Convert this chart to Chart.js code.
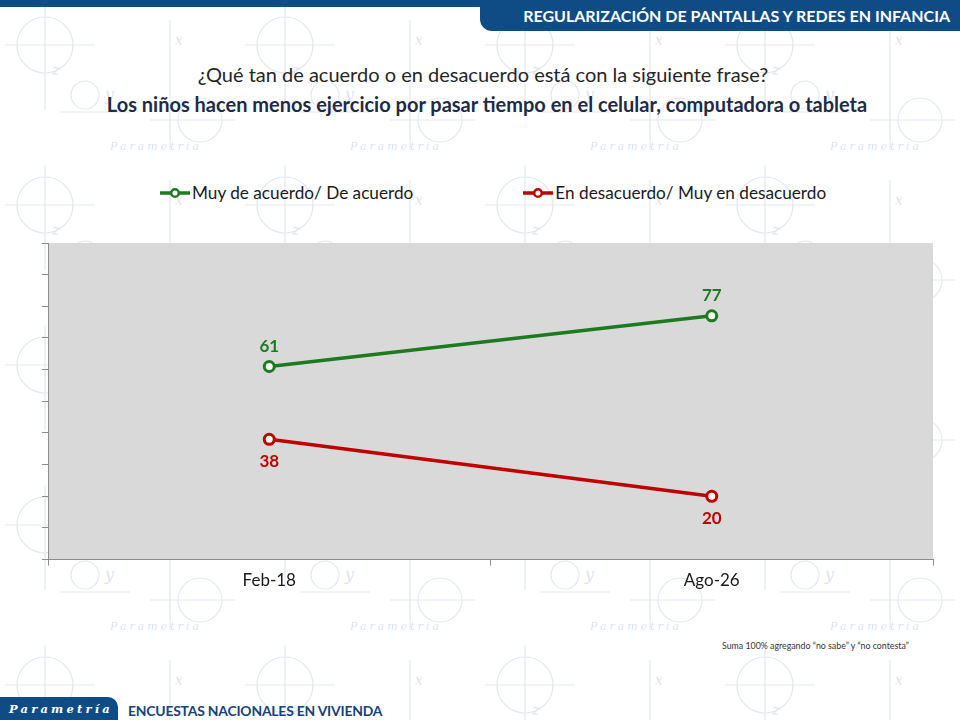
<!DOCTYPE html>
<html lang="es">
<head>
<meta charset="utf-8">
<title>Regularización de pantallas y redes en infancia</title>
<script src="https://cdn.jsdelivr.net/npm/chart.js@4.4.1/dist/chart.umd.min.js"></script>
<style>
  html, body { margin: 0; padding: 0; }
  body {
    width: 960px; height: 720px; position: relative; overflow: hidden;
    background: #ffffff; font-family: Lato, 'Noto Sans', sans-serif;
  }
  #wm { position: absolute; left: 0; top: 0; width: 960px; height: 720px; opacity: 0.85; }
  .topline { position: absolute; left: 0; top: 0; width: 960px; height: 7px; background: #0f4c86; }
  .toptab {
    position: absolute; left: 480px; top: 0; width: 480px; height: 31px;
    background: #0f4c86; border-bottom-left-radius: 12px;
    color: #fff; font-weight: bold; font-size: 16px; line-height: 31px;
    text-align: right; padding-right: 10px; box-sizing: border-box;
  }
  .q1 { position: absolute; left: 0; width: 966px; top: 62px; text-align: center; font-size: 20px; color: #262626; }
  .q2 { position: absolute; left: 0; width: 974px; top: 92px; text-align: center; font-size: 20px; font-weight: bold; color: #1f2b45; }
  #legend { position: absolute; top: 182px; left: 160px; display: flex; align-items: center; }
  #legend .item { display: flex; align-items: center; font-size: 17.2px; color: #1a1a1a; }
  #legend .item img { margin-right: 2px; }
  #chartBox { position: absolute; left: 0; top: 230px; width: 960px; height: 390px; }
  .note { position: absolute; left: 722px; top: 640px; font-size: 8.8px; color: #333; }
  .foottab {
    position: absolute; left: 0; top: 697px; width: 118px; height: 23px;
    background: #0f4c86; border-top-right-radius: 10px;
    color: #fff; font-family: 'DejaVu Serif', serif; font-style: italic; font-weight: bold;
    font-size: 11.5px; letter-spacing: 3.2px; line-height: 24px; padding-left: 9px; box-sizing: border-box;
  }
  .foottext { position: absolute; left: 128px; top: 702px; font-size: 13.9px; font-weight: bold; color: #17427a; letter-spacing: -0.2px; }
</style>
</head>
<body>
<svg id="wm" xmlns="http://www.w3.org/2000/svg">
  <defs>
    <pattern id="sk" width="240" height="160" patternUnits="userSpaceOnUse">
      <g fill="none" stroke="#dde5ee" stroke-width="1.2">
        <circle cx="45" cy="45" r="28"/>
        <line x1="45" y1="5" x2="45" y2="110"/>
        <line x1="5" y1="45" x2="95" y2="45"/>
        <circle cx="85" cy="95" r="14"/>
        <line x1="60" y1="112" x2="130" y2="112"/>
        <line x1="170" y1="20" x2="170" y2="150"/>
        <circle cx="200" cy="120" r="22"/>
        <line x1="150" y1="120" x2="235" y2="120"/>
      </g>
      <g fill="#d5dfea" font-family="'DejaVu Serif', serif" font-style="italic">
        <text x="52" y="75" font-size="15">z</text>
        <text x="105" y="100" font-size="16">y</text>
        <text x="175" y="45" font-size="14">x</text>
        <text x="110" y="150" font-size="11" letter-spacing="3">Parametria</text>
      </g>
    </pattern>
  </defs>
  <rect width="960" height="720" fill="url(#sk)"/>
</svg>

<div class="topline"></div>
<div class="toptab">REGULARIZACIÓN DE PANTALLAS Y REDES EN INFANCIA</div>
<div class="q1">¿Qué tan de acuerdo o en desacuerdo está con la siguiente frase?</div>
<div class="q2">Los niños hacen menos ejercicio por pasar tiempo en el celular, computadora o tableta</div>
<div id="legend"></div>
<div id="chartBox"><canvas id="myChart" width="960" height="390"></canvas></div>
<div class="note">Suma 100% agregando “no sabe” y “no contesta”</div>
<div class="foottab">Parametría</div>
<div class="foottext">ENCUESTAS NACIONALES EN VIVIENDA</div>

<script>
'use strict';

// data
var categories = ['Feb-18', 'Ago-26'];
var seriesNames = ['Muy de acuerdo/ De acuerdo', 'En desacuerdo/ Muy en desacuerdo'];
var acuerdo = [61, 77];
var desacuerdo = [38, 20];
var yMin = 0;
var yMax = 100;
var yStep = 10;

var GREEN = '#1d7a1f';
var RED = '#c00000';

// small line + open circle used as the legend marker
function legendMarker(color) {
  var c = document.createElement('canvas');
  c.width = 30;
  c.height = 12;
  var g = c.getContext('2d');
  g.strokeStyle = color;
  g.lineWidth = 3.5;
  g.beginPath();
  g.moveTo(0, 6);
  g.lineTo(30, 6);
  g.stroke();
  g.fillStyle = '#fff';
  g.lineWidth = 2.5;
  g.beginPath();
  g.arc(15, 6, 3.8, 0, Math.PI * 2);
  g.fill();
  g.stroke();
  return c;
}

var plotBg = {
  id: 'plotBg',
  beforeDraw: function(chart) {
    var a = chart.chartArea;
    var ctx = chart.ctx;
    ctx.save();
    ctx.fillStyle = '#d9d9d9';
    ctx.fillRect(a.left, a.top, a.right - a.left, a.bottom - a.top);
    ctx.restore();
  }
};

// value labels: above for the green line, below for the red one
var valueLabels = {
  id: 'valueLabels',
  afterDatasetsDraw: function(chart) {
    var ctx = chart.ctx;
    ctx.save();
    ctx.font = 'bold 17px Lato, sans-serif';
    ctx.textAlign = 'center';
    ctx.textBaseline = 'middle';
    chart.data.datasets.forEach(function(ds, di) {
      var meta = chart.getDatasetMeta(di);
      meta.data.forEach(function(pt, i) {
        ctx.fillStyle = ds.borderColor;
        var dy = di === 0 ? -20 : 22;
        ctx.fillText(ds.data[i], pt.x, pt.y + dy);
      });
    });
    ctx.restore();
  }
};

var ctx = document.getElementById('myChart').getContext('2d');
var chart = new Chart(ctx, {
  type: 'line',
  data: {
    labels: categories,
    datasets: [{
      label: seriesNames[0],
      data: acuerdo,
      borderColor: GREEN,
      backgroundColor: '#ffffff'
    }, {
      label: seriesNames[1],
      data: desacuerdo,
      borderColor: RED,
      backgroundColor: '#ffffff'
    }]
  },
  options: {
    responsive: false,
    animation: false,
    events: [],
    layout: { padding: { left: 42, right: 27, top: 13, bottom: 24 } },
    elements: {
      line: { borderWidth: 3.5, tension: 0 },
      point: { radius: 5, borderWidth: 3, pointStyle: 'circle', hoverRadius: 5 }
    },
    scales: {
      x: {
        offset: true,
        grid: { offset: true, drawOnChartArea: false, drawTicks: true, tickLength: 6, color: '#8c8c8c' },
        border: { display: true, color: '#8c8c8c', width: 1 },
        ticks: { color: '#1a1a1a', padding: 5, font: { family: 'Lato, sans-serif', size: 17 } }
      },
      y: {
        min: yMin,
        max: yMax,
        grid: { drawOnChartArea: false, drawTicks: true, tickLength: 6, color: '#8c8c8c' },
        border: { display: true, color: '#8c8c8c', width: 1 },
        ticks: { display: false, stepSize: yStep }
      }
    },
    plugins: {
      legend: { display: false },
      tooltip: { enabled: false }
    }
  },
  plugins: [plotBg, valueLabels]
});

// html legend built from the chart's own legend items
var legendEl = document.getElementById('legend');
var items = Chart.defaults.plugins.legend.labels.generateLabels(chart);
items.forEach(function(it, i) {
  var div = document.createElement('div');
  div.className = 'item';
  if (i > 0) div.style.marginLeft = '110px';
  var img = document.createElement('img');
  img.src = legendMarker(it.strokeStyle).toDataURL();
  img.width = 30;
  img.height = 12;
  div.appendChild(img);
  div.appendChild(document.createTextNode(it.text));
  legendEl.appendChild(div);
});
</script>
</body>
</html>
